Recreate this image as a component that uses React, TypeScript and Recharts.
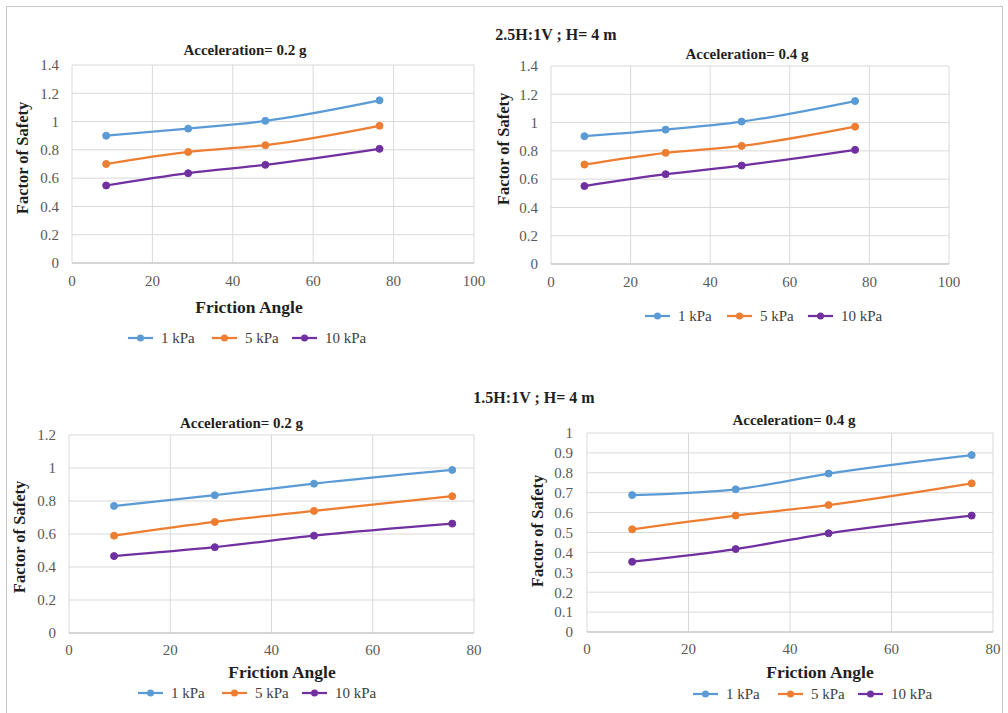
import React from "react";
import { LineChart, Line, XAxis, YAxis, CartesianGrid } from "recharts";

// ---------- data ----------
const seriesNames = ["1 kPa", "5 kPa", "10 kPa"];
const seriesColors = ["#5b9bd5", "#ed7d31", "#7030a0"];

const anglesTopLeft = [8.5, 28.9, 48.1, 76.5];
const fsTopLeft1 = [0.9, 0.95, 1.005, 1.15];
const fsTopLeft5 = [0.7, 0.785, 0.833, 0.97];
const fsTopLeft10 = [0.548, 0.635, 0.694, 0.807];

const anglesTopRight = [8.4, 28.8, 47.9, 76.4];
const fsTopRight1 = [0.904, 0.95, 1.007, 1.152];
const fsTopRight5 = [0.703, 0.786, 0.835, 0.971];
const fsTopRight10 = [0.551, 0.635, 0.696, 0.807];

const anglesBottomLeft = [8.9, 28.8, 48.4, 75.7];
const fsBottomLeft1 = [0.77, 0.835, 0.905, 0.988];
const fsBottomLeft5 = [0.59, 0.673, 0.74, 0.829];
const fsBottomLeft10 = [0.466, 0.52, 0.59, 0.663];

const anglesBottomRight = [8.9, 29.3, 47.6, 75.8];
const fsBottomRight1 = [0.688, 0.717, 0.796, 0.889];
const fsBottomRight5 = [0.516, 0.585, 0.638, 0.747];
const fsBottomRight10 = [0.353, 0.417, 0.496, 0.585];

const xTicks100 = [0, 20, 40, 60, 80, 100];
const xTicks80 = [0, 20, 40, 60, 80];
const yTicks14 = [0, 0.2, 0.4, 0.6, 0.8, 1, 1.2, 1.4];
const yTicks12 = [0, 0.2, 0.4, 0.6, 0.8, 1, 1.2];
const yTicks10 = [0, 0.1, 0.2, 0.3, 0.4, 0.5, 0.6, 0.7, 0.8, 0.9, 1];

const groupTitleTop = "2.5H:1V ;  H= 4 m";
const groupTitleBottom = "1.5H:1V ;  H= 4 m";
const subTitle02 = "Acceleration= 0.2 g";
const subTitle04 = "Acceleration= 0.4 g";
const xAxisTitle = "Friction Angle";
const yAxisTitle = "Factor of Safety";

function buildRows(x: number[], a: number[], b: number[], c: number[]) {
  return x.map((v, i) => ({ angle: v, s0: a[i], s1: b[i], s2: c[i] }));
}

const FONT = "Liberation Serif";

type Panel = {
  rows: any[];
  left: number;
  top: number;
  width: number;
  height: number;
  plotLeft: number;
  plotTop: number;
  plotRight: number;
  plotBottom: number;
  xMax: number;
  xTicks: number[];
  yMax: number;
  yTicks: number[];
  yTickGap: number;
  xTickGap: number;
};

const panels: Panel[] = [
  {
    rows: buildRows(anglesTopLeft, fsTopLeft1, fsTopLeft5, fsTopLeft10),
    left: 0, top: 0, width: 504, height: 360,
    plotLeft: 72, plotTop: 65, plotRight: 474, plotBottom: 263,
    xMax: 100, xTicks: xTicks100, yMax: 1.4, yTicks: yTicks14, yTickGap: 13, xTickGap: 12,
  },
  {
    rows: buildRows(anglesTopRight, fsTopRight1, fsTopRight5, fsTopRight10),
    left: 504, top: 0, width: 504, height: 360,
    plotLeft: 551, plotTop: 66, plotRight: 949, plotBottom: 264,
    xMax: 100, xTicks: xTicks100, yMax: 1.4, yTicks: yTicks14, yTickGap: 13, xTickGap: 12,
  },
  {
    rows: buildRows(anglesBottomLeft, fsBottomLeft1, fsBottomLeft5, fsBottomLeft10),
    left: 0, top: 380, width: 504, height: 333,
    plotLeft: 69, plotTop: 435, plotRight: 474, plotBottom: 633,
    xMax: 80, xTicks: xTicks80, yMax: 1.2, yTicks: yTicks12, yTickGap: 13, xTickGap: 11,
  },
  {
    rows: buildRows(anglesBottomRight, fsBottomRight1, fsBottomRight5, fsBottomRight10),
    left: 504, top: 380, width: 504, height: 333,
    plotLeft: 587, plotTop: 433, plotRight: 993, plotBottom: 632,
    xMax: 80, xTicks: xTicks80, yMax: 1, yTicks: yTicks10, yTickGap: 14, xTickGap: 11,
  },
];

const Y_AXIS_W = 40;
const X_AXIS_H = 30;

function ChartPanel({ p }: { p: Panel }) {
  const margin = {
    top: p.plotTop - p.top,
    left: p.plotLeft - p.left - Y_AXIS_W,
    right: p.left + p.width - p.plotRight,
    bottom: p.top + p.height - p.plotBottom - X_AXIS_H,
  };
  const tickStyle = { fill: "#595959", fontSize: 15, fontFamily: FONT };
  return (
    <div style={{ position: "absolute", left: p.left, top: p.top }}>
      <LineChart width={p.width} height={p.height} data={p.rows} margin={margin} style={{ fontFamily: FONT }}>
        <CartesianGrid stroke="#d9d9d9" strokeWidth={1} />
        <XAxis
          dataKey="angle"
          type="number"
          domain={[0, p.xMax]}
          ticks={p.xTicks}
          height={X_AXIS_H}
          tickLine={false}
          tickSize={0}
          tickMargin={p.xTickGap}
          axisLine={{ stroke: "#bfbfbf", strokeWidth: 1 }}
          tick={tickStyle}
          interval={0}
        />
        <YAxis
          type="number"
          domain={[0, p.yMax]}
          ticks={p.yTicks}
          width={Y_AXIS_W}
          tickLine={false}
          tickSize={0}
          tickMargin={p.yTickGap}
          axisLine={false}
          tick={tickStyle}
          interval={0}
        />
        {["s0", "s1", "s2"].map((k, i) => (
          <Line
            key={k}
            dataKey={k}
            name={seriesNames[i]}
            type="monotone"
            stroke={seriesColors[i]}
            strokeWidth={2.25}
            dot={{ r: 3.5, fill: seriesColors[i], stroke: seriesColors[i], strokeWidth: 1 }}
            isAnimationActive={false}
          />
        ))}
      </LineChart>
    </div>
  );
}

function LegendRow({ y, starts }: { y: number; starts: number[] }) {
  return (
    <g>
      {seriesNames.map((n, i) => (
        <g key={n}>
          <line x1={starts[i]} x2={starts[i] + 25} y1={y} y2={y} stroke={seriesColors[i]} strokeWidth={2.25} />
          <circle cx={starts[i] + 12.5} cy={y} r={3.5} fill={seriesColors[i]} />
          <text x={starts[i] + 33} y={y} dominantBaseline="central" fontSize={15} fill="#404040" style={{ fontFamily: FONT }}>
            {n}
          </text>
        </g>
      ))}
    </g>
  );
}

export default function App() {
  const boldText = { style: { fontFamily: FONT, fontWeight: 700 }, fill: "#1f1f1f" };
  return (
    <div style={{ position: "absolute", left: 0, top: 0, width: 1008, height: 713, background: "#ffffff", overflow: "hidden", fontFamily: FONT }}>
      {panels.map((p, i) => (
        <ChartPanel key={i} p={p} />
      ))}
      <svg width={1008} height={713} style={{ position: "absolute", left: 0, top: 0, pointerEvents: "none" }}>
        <rect x={6.5} y={6.5} width={996} height={720} fill="none" stroke="#c8c8c8" strokeWidth={1} />
        <text x={556} y={34} textAnchor="middle" dominantBaseline="central" fontSize={16} {...boldText}>{groupTitleTop}</text>
        <text x={534} y={397} textAnchor="middle" dominantBaseline="central" fontSize={16} {...boldText}>{groupTitleBottom}</text>

        <text x={245} y={50} textAnchor="middle" dominantBaseline="central" fontSize={15} {...boldText}>{subTitle02}</text>
        <text x={747} y={54} textAnchor="middle" dominantBaseline="central" fontSize={15} {...boldText}>{subTitle04}</text>
        <text x={241.5} y={423} textAnchor="middle" dominantBaseline="central" fontSize={15} {...boldText}>{subTitle02}</text>
        <text x={794} y={420} textAnchor="middle" dominantBaseline="central" fontSize={15} {...boldText}>{subTitle04}</text>

        <text x={249} y={307} textAnchor="middle" dominantBaseline="central" fontSize={17.5} {...boldText}>{xAxisTitle}</text>
        <text x={282} y={672} textAnchor="middle" dominantBaseline="central" fontSize={17.5} {...boldText}>{xAxisTitle}</text>
        <text x={820} y={672} textAnchor="middle" dominantBaseline="central" fontSize={17.5} {...boldText}>{xAxisTitle}</text>

        <text transform="translate(22,158) rotate(-90)" textAnchor="middle" dominantBaseline="central" fontSize={16.5} {...boldText}>{yAxisTitle}</text>
        <text transform="translate(503,149) rotate(-90)" textAnchor="middle" dominantBaseline="central" fontSize={16.5} {...boldText}>{yAxisTitle}</text>
        <text transform="translate(19,537) rotate(-90)" textAnchor="middle" dominantBaseline="central" fontSize={16.5} {...boldText}>{yAxisTitle}</text>
        <text transform="translate(537,531) rotate(-90)" textAnchor="middle" dominantBaseline="central" fontSize={16.5} {...boldText}>{yAxisTitle}</text>

        <LegendRow y={338} starts={[128, 212, 292]} />
        <LegendRow y={316} starts={[645, 727, 808]} />
        <LegendRow y={693} starts={[138, 222, 302]} />
        <LegendRow y={694} starts={[693, 778, 858]} />
      </svg>
    </div>
  );
}
